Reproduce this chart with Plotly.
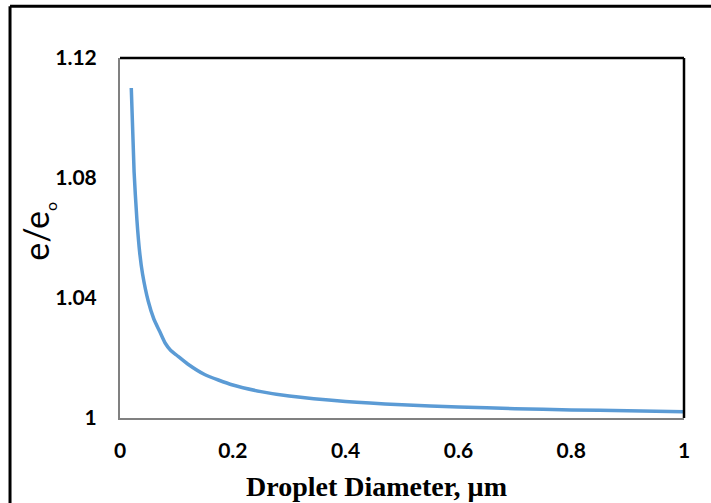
import plotly.graph_objects as go

diameter_um = [0.02, 0.025, 0.03, 0.035, 0.04, 0.05, 0.06, 0.07, 0.08, 0.09, 0.10,
               0.12, 0.15, 0.20, 0.25, 0.30, 0.40, 0.50, 0.60, 0.70, 0.80, 0.90, 1.00]
e_ratio = [1.110, 1.082, 1.066, 1.055, 1.048, 1.039, 1.033, 1.029, 1.025, 1.0225, 1.021,
           1.018, 1.0145, 1.011, 1.0088, 1.0073, 1.0055, 1.0044, 1.0037, 1.0031, 1.0027,
           1.0024, 1.0021]

x_ticks = [0, 0.2, 0.4, 0.6, 0.8, 1]
x_tick_text = ["0", "0.2", "0.4", "0.6", "0.8", "1"]
y_ticks = [1, 1.04, 1.08, 1.12]
y_tick_text = ["1", "1.04", "1.08", "1.12"]

x_title = "Droplet Diameter, µm"
y_title = "e/e<sub><span style='font-size:16px'>o</span></sub>"

fig = go.Figure()
fig.add_trace(go.Scatter(
    x=diameter_um, y=e_ratio, mode="lines",
    line=dict(color="#5B9BD5", width=3.5, shape="spline", smoothing=0.6),
    showlegend=False, cliponaxis=True,
))

tick_font = dict(family="Lato", size=21, color="black")

fig.update_layout(
    width=711, height=503,
    margin=dict(l=120, r=27, t=58, b=85),
    paper_bgcolor="white", plot_bgcolor="white",
    xaxis=dict(
        range=[0, 1], tickvals=x_ticks, ticktext=[f"<b>{t}</b>" for t in x_tick_text],
        showgrid=False, zeroline=False, ticks="",
        showline=True, linecolor="#808080", linewidth=2,
        tickfont=tick_font, ticklabelstandoff=13,
    ),
    yaxis=dict(
        range=[1, 1.12], tickvals=y_ticks, ticktext=[f"<b>{t}</b>" for t in y_tick_text],
        showgrid=False, zeroline=False, ticks="",
        showline=True, linecolor="#808080", linewidth=2,
        tickfont=tick_font, ticklabelstandoff=17,
    ),
    annotations=[
        dict(text=f"<b>{x_title}</b>", xref="paper", yref="paper", x=0.454, y=-0.19,
             xanchor="center", yanchor="middle", showarrow=False,
             font=dict(family="Liberation Serif", size=28, color="black")),
        dict(text=y_title, xref="paper", yref="paper", x=-0.146, y=0.519,
             xanchor="center", yanchor="middle", showarrow=False, textangle=-90,
             font=dict(family="Lato", size=34, color="black")),
    ],
    shapes=[
        dict(type="line", xref="paper", yref="paper", x0=0, x1=1, y0=1, y1=1,
             line=dict(color="black", width=2.5)),
        dict(type="line", xref="paper", yref="paper", x0=1, x1=1, y0=0, y1=1,
             line=dict(color="black", width=2.5)),
        dict(type="line", xref="paper", yref="paper", x0=-0.195, x1=1.1, y0=1.144, y1=1.144,
             line=dict(color="black", width=3)),
        dict(type="line", xref="paper", yref="paper", x0=-0.195, x1=-0.195, y0=-0.3, y1=1.144,
             line=dict(color="black", width=3)),
    ],
)

fig.write_html("out.html")
